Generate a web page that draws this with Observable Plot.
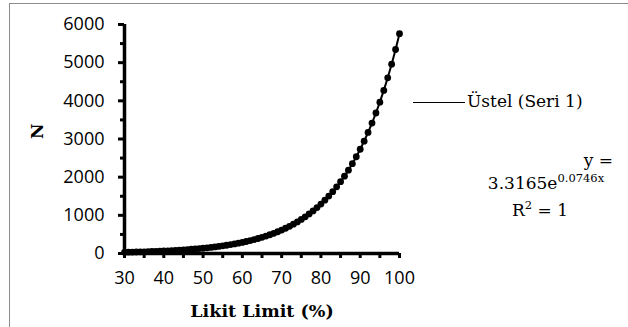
<!DOCTYPE html>
<html>
<head>
<meta charset="utf-8">
<script src="https://cdn.jsdelivr.net/npm/d3@7"></script>
<script src="https://cdn.jsdelivr.net/npm/@observablehq/plot@0.6"></script>
<style>
  html, body { margin: 0; padding: 0; background: #fff; }
  #wrap { position: relative; width: 628px; height: 327px; overflow: hidden; }
  #frame { position: absolute; left: 9px; top: 3px; width: 700px; height: 400px;
           border-left: 1.5px solid #8c8c8c; border-top: 1.5px solid #8c8c8c; }
  #chart { position: absolute; left: 0; top: 0; }
  .ann { position: absolute; font-family: "DejaVu Serif", serif; font-size: 17px; color: #000; white-space: nowrap; line-height: 20px; }
</style>
</head>
<body>
<div id="wrap">
  <div id="frame"></div>
  <div id="chart"></div>
  <div class="ann" id="leg" style="left:413px; top:91px;">
    <span style="display:inline-block; width:52px; height:0; border-top:1.5px solid #000; vertical-align:middle; margin-right:2px;"></span><span id="legText"></span>
  </div>
  <div class="ann" style="left:470px; top:150px; width:143px; text-align:right;">y =</div>
  <div class="ann" id="eq" style="left:466px; top:173px; width:160px; text-align:center;"></div>
  <div class="ann" id="r2" style="left:466px; top:200px; width:148px; text-align:center;"></div>
</div>
<script>
// Data: Likit Limit (%) vs N
const likitLimit = [30,31,32,33,34,35,36,37,38,39,40,41,42,43,44,45,46,47,48,49,50,51,52,53,54,55,56,57,58,59,60,61,62,63,64,65,66,67,68,69,70,71,72,73,74,75,76,77,78,79,80,81,82,83,84,85,86,87,88,89,90,91,92,93,94,95,96,97,98,99,100];
const nValues = [31,34,36,39,42,45,49,52,56,61,66,71,76,82,88,95,103,111,119,128,138,149,160,173,186,201,216,233,251,271,291,314,338,365,393,423,456,491,529,570,614,662,713,769,828,892,961,1036,1116,1202,1296,1396,1504,1620,1746,1881,2027,2184,2353,2535,2731,2943,3171,3417,3681,3966,4273,4604,4961,5345,5759];
const xTicks = [30,35,40,45,50,55,60,65,70,75,80,85,90,95,100];
const xLabels = [30,40,50,60,70,80,90,100];
const yMajor = [0,1000,2000,3000,4000,5000,6000];
const yMinor = [500,1500,2500,3500,4500,5500];
const legendLabel = "Üstel (Seri 1)";
const eqText = {coef: "3.3165e", exp: "0.0746x", r2: "1"};
const xTitle = "Likit Limit (%)";
const yTitle = "N";

const data = likitLimit.map((x, i) => ({x, y: nValues[i]}));

const tickFont = {fontFamily: "Open Sans, sans-serif", fontSize: 18};

const plot = Plot.plot({
  width: 628,
  height: 327,
  marginLeft: 124,
  marginRight: 229,
  marginTop: 24,
  marginBottom: 74,
  style: {background: "transparent", color: "#000", overflow: "visible"},
  x: {domain: [30, 100]},
  y: {domain: [0, 6000]},
  marks: [
    Plot.axisX({ticks: xTicks, tickSize: 5, strokeWidth: 3, tickPadding: 13,
      tickFormat: d => xLabels.includes(d) ? String(d) : "", label: null, ...tickFont}),
    Plot.axisY({ticks: yMinor, tickSize: 4, strokeWidth: 3, tickFormat: () => "", label: null}),
    Plot.axisY({ticks: yMajor, tickSize: 6, strokeWidth: 3, tickPadding: 14,
      tickFormat: d => String(d), label: null, ...tickFont}),
    Plot.ruleX([30], {strokeWidth: 3.5}),
    Plot.ruleY([0], {strokeWidth: 3.5}),
    Plot.line(data, {x: "x", y: "y", stroke: "#000", strokeWidth: 2}),
    Plot.dot(data, {x: "x", y: "y", r: 3.4, fill: "#000", stroke: "none"}),
    Plot.text([xTitle], {frameAnchor: "bottom", dy: 63, text: d => d, fontFamily: "DejaVu Serif, serif", fontWeight: "bold", fontSize: 17.5}),
    Plot.text([yTitle], {frameAnchor: "left", dx: -87, rotate: -90, text: d => d, fontFamily: "DejaVu Serif, serif", fontWeight: "bold", fontSize: 17})
  ]
});
document.getElementById("chart").appendChild(plot);
document.getElementById("legText").textContent = legendLabel;
document.getElementById("eq").innerHTML = eqText.coef + '<sup style="font-size:11.5px; vertical-align: 7px; line-height:0;">' + eqText.exp + '</sup>';
document.getElementById("r2").innerHTML = 'R<sup style="font-size:11.5px; vertical-align: 7px; line-height:0;">2</sup> = ' + eqText.r2;
</script>
</body>
</html>
